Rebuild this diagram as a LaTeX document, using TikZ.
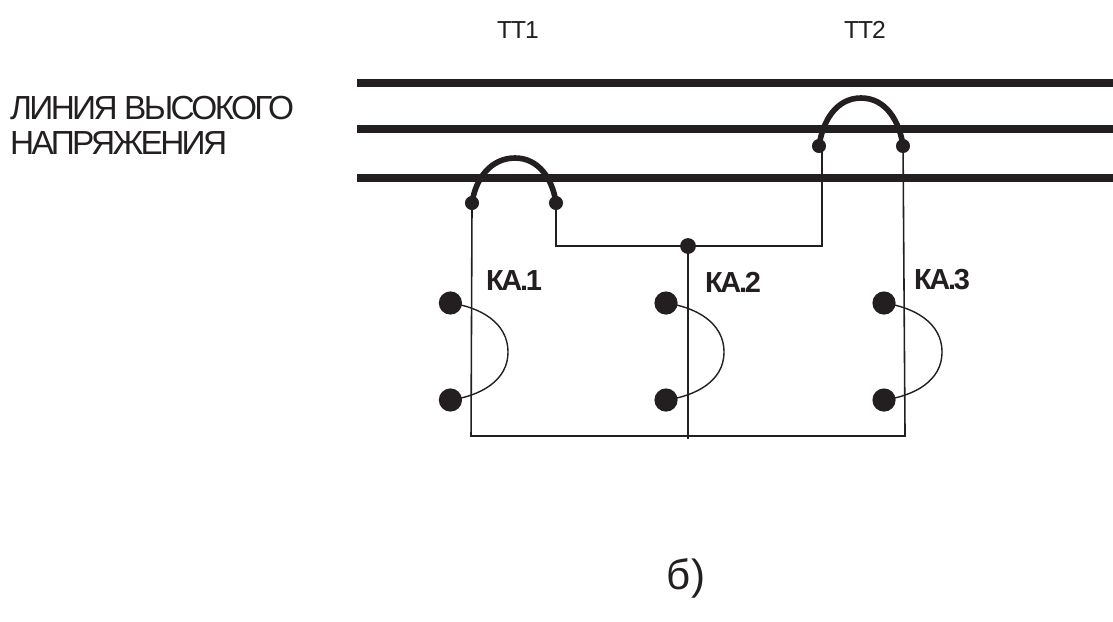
\documentclass[tikz,border=0pt]{standalone}
\usepackage{fontspec}
\setmainfont{Liberation Sans}
\newfontfamily\tightfont[LetterSpace=-4]{Liberation Sans}
\newfontfamily\tighterfont[LetterSpace=-8]{Liberation Sans}
\definecolor{inkcol}{HTML}{231F20}
\usetikzlibrary{positioning}
\tikzset{
  bus/.style={draw=inkcol, line width=4.2pt},
  wire/.style={draw=inkcol, line width=0.9pt},
  coilwire/.style={draw=inkcol, line width=0.8pt},
  jumper/.style={draw=inkcol, line width=3.2pt},
  tapdot/.style={circle, fill=inkcol, inner sep=0pt, minimum size=8pt},
  joindot/.style={circle, fill=inkcol, inner sep=0pt, minimum size=9pt},
  coildot/.style={circle, fill=inkcol, inner sep=0pt, minimum size=13.2pt},
  ttlabel/.style={text=inkcol, font=\fontsize{14}{17}\selectfont\tightfont},
  kalabel/.style={text=inkcol, font=\fontsize{16.5}{20}\selectfont\tighterfont\bfseries},
}
\begin{document}
\begin{tikzpicture}[scale=0.4]
\useasboundingbox (0,0) rectangle (55.65,-31.05);
\coordinate (busa1) at (17.85,-4.15);
\coordinate (busa2) at (55.65,-4.15);
\coordinate (busb1) at (17.85,-6.45);
\coordinate (busb2) at (55.65,-6.45);
\coordinate (busc1) at (17.85,-8.9);
\coordinate (busc2) at (55.65,-8.9);
\draw [bus] (busa1) -- (busa2);
\draw [bus] (busb1) -- (busb2);
\draw [bus] (busc1) -- (busc2);
\node [ttlabel] (tt1) at (25.9,-1.5) {ТТ1};
\node [ttlabel] (tt2) at (43.25,-1.5) {ТТ2};
\node [align=left, anchor=west, text=inkcol, font=\fontsize{19}{19.9}\selectfont\tighterfont] (line) at (0.2,-6.28) {ЛИНИЯ ВЫСОКОГО\\НАПРЯЖЕНИЯ};
\node [tapdot] (tta) at (23.6,-10.15) {};
\node [tapdot] (ttb) at (27.8,-10.15) {};
\node [tapdot] (ttc) at (40.95,-7.3) {};
\node [tapdot] (ttd) at (45.15,-7.3) {};
\node [joindot] (joint) at (34.4,-12.3) {};
\coordinate (topa) at (25.75,-7.9);
\coordinate (topb) at (43.05,-4.9);
\draw [jumper] (tta.center) to [out=82,in=180] (topa) to [out=0,in=98] (ttb.center);
\draw [jumper] (ttc.center) to [out=82,in=180] (topb) to [out=0,in=98] (ttd.center);
\node [coildot] (kaa) at (22.52,-15.15) {};
\node [coildot] (kab) at (22.52,-20) {};
\node [coildot] (kac) at (33.3,-15.15) {};
\node [coildot] (kad) at (33.3,-20) {};
\node [coildot] (kae) at (44.2,-15.15) {};
\node [coildot] (kaf) at (44.2,-20) {};
\coordinate (bulga) at (25.4,-17.6);
\coordinate (bulgb) at (36.2,-17.6);
\coordinate (bulgc) at (47.1,-17.6);
\draw [coilwire] (kaa.center) to [out=-8,in=90] (bulga) to [out=-90,in=8] (kab.center);
\draw [coilwire] (kac.center) to [out=-8,in=90] (bulgb) to [out=-90,in=8] (kad.center);
\draw [coilwire] (kae.center) to [out=-8,in=90] (bulgc) to [out=-90,in=8] (kaf.center);
\coordinate (lowa) at (23.55,-21.8);
\coordinate (lowc) at (45.25,-21.8);
\coordinate (lowd) at (34.4,-21.95);
\coordinate (ttcfoot) at (41.1,-12.3);
\coordinate (ttcneck) at (41.1,-7.3);
\draw [wire] (tta.center) -- (lowa) -- (lowc) -- (ttd.center);
\draw [wire] (ttb.center) |- (joint.center) -- (ttcfoot) -- (ttcneck);
\draw [wire] (joint.center) -- (lowd);
\node [kalabel] (ka1) at (25.7,-14.05) {КА.1};
\node [kalabel] (ka2) at (36.65,-14.1) {КА.2};
\node [kalabel] (ka3) at (47.1,-14) {КА.3};
\node [text=inkcol, font=\fontsize{24}{28}\selectfont] (sub) at (34.3,-28.9) {б)};
\end{tikzpicture}
\end{document}
